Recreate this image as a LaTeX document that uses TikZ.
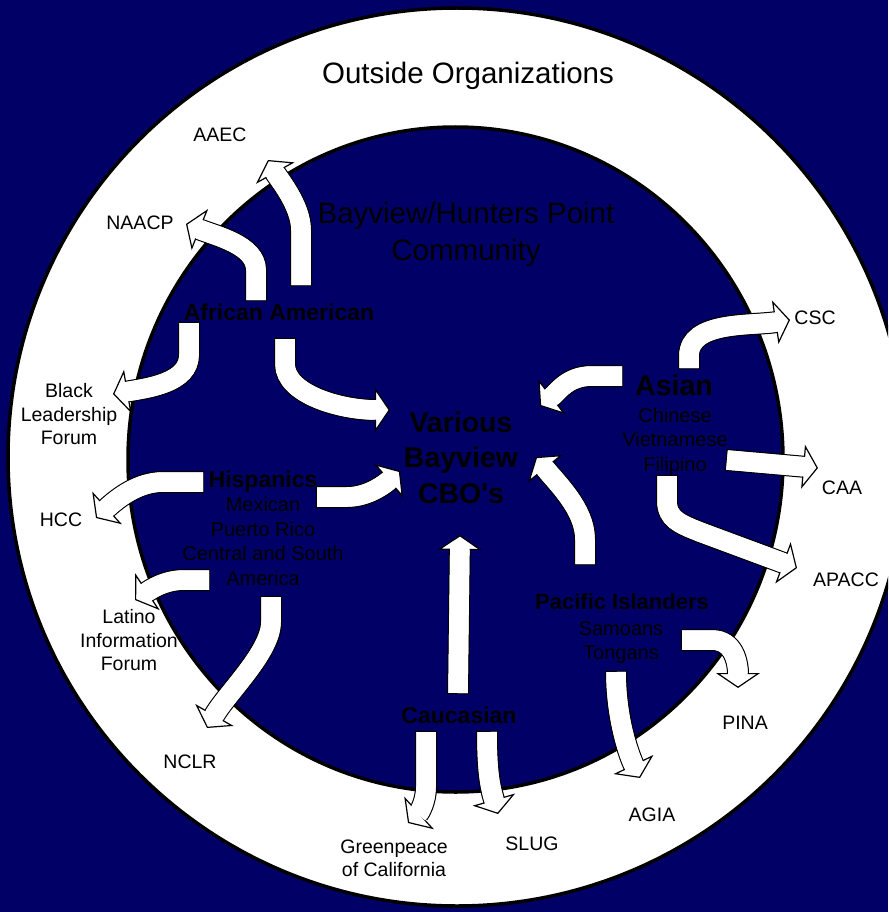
\documentclass[tikz,border=0pt]{standalone}
\usepackage{fontspec}
\setmainfont{Liberation Sans}
\usetikzlibrary{arrows.meta}
\definecolor{bgnavy}{RGB}{0,0,102}

\begin{document}
\begin{tikzpicture}[x=1pt,y=-1pt,
    ring/.style={draw=black,line width=3.5pt},
    flow/.style={draw=white,line width=19.5pt,
      -{Triangle[width=44pt,length=15pt,line width=1.2pt,color=black,fill=white]},
      preaction={draw=black,line width=22pt,arrows=-,shorten >=14pt,shorten <=-1.2pt},
      postaction={draw=white,line width=19.5pt,arrows=-,shorten >=13pt}},
    title/.style={inner sep=0pt,align=center,font=\fontsize{29.5}{37}\selectfont},
    org/.style={inner sep=0pt,align=center,font=\fontsize{19.5}{23.5}\selectfont},
    grp/.style={inner sep=0pt,align=center,font=\bfseries\fontsize{23}{25}\selectfont},
    sub/.style={inner sep=0pt,align=center,font=\fontsize{20}{24.5}\selectfont}]
    \useasboundingbox (0,0) rectangle (888,912);
    \clip (0,0) rectangle (888,912);
    \fill [bgnavy] (0,0) rectangle (888,912);
    \draw [ring,fill=white] (457,457) circle [radius=449];
    \draw [ring,fill=bgnavy] (455.5,459.5) ellipse [x radius=327.5,y radius=332.5];

    % arrow ends
    \coordinate (aaecS) at (301,285);  \coordinate (aaecE) at (268,160);
    \coordinate (naacpS) at (256,300); \coordinate (naacpE) at (186,224);
    \coordinate (blfS) at (189,323);   \coordinate (blfE) at (113,394);
    \coordinate (afcS) at (285,339);   \coordinate (afcE) at (390,410);
    \coordinate (hccS) at (203,482);   \coordinate (hccE) at (96,518);
    \coordinate (hicS) at (317,497);   \coordinate (hicE) at (400,471);
    \coordinate (lifS) at (209,580);   \coordinate (lifE) at (135,600);
    \coordinate (nclrS) at (271,597);  \coordinate (nclrE) at (207,728);
    \coordinate (gpS) at (426,732);    \coordinate (gpE) at (408,823);
    \coordinate (slugS) at (487,732);  \coordinate (slugE) at (498,814);
    \coordinate (cacS) at (458,693);   \coordinate (cacE) at (460,535);
    \coordinate (picS) at (585,564);   \coordinate (picE) at (536,457);
    \coordinate (ascS) at (622,376);   \coordinate (ascE) at (540,406);
    \coordinate (cscS) at (689,368);   \coordinate (cscE) at (790,320);
    \coordinate (caaS) at (727,460);   \coordinate (caaE) at (818,468);
    \coordinate (apaS) at (667,476);   \coordinate (apaE) at (797,568);
    \coordinate (pinaS) at (682,640);  \coordinate (pinaE) at (738,688);
    \coordinate (agiaS) at (616,672);  \coordinate (agiaE) at (640,778);

    \draw [flow] (aaecS) -- ++(0,-55) .. controls +(0,-25) and +(10,18) .. (aaecE);
    \draw [flow] (naacpS) -- ++(0,-30) .. controls +(0,-25) and +(30,12) .. (naacpE);
    \draw [flow] (blfS) -- ++(0,32) .. controls +(0,28) and +(35,-6) .. (blfE);
    \draw [flow] (afcS) -- ++(0,25) .. controls +(0,30) and +(-50,0) .. (afcE);
    \draw [flow] (hccS) -- ++(-40,0) .. controls +(-25,0) and +(22,-20) .. (hccE);
    \draw [flow] (hicS) -- ++(30,0) .. controls +(22,0) and +(-14,12) .. (hicE);
    \draw [flow] (lifS) -- ++(-25,0) .. controls +(-20,0) and +(15,-10) .. (lifE);
    \draw [flow] (nclrS) -- ++(0,25) .. controls +(0,30) and +(20,-35) .. (nclrE);
    \draw [flow] (gpS) -- ++(0,55) .. controls +(0,15) and +(11,-10) .. (gpE);
    \draw [flow] (slugS) .. controls +(0,40) and +(-8,-28) .. (slugE);
    \draw [flow] (cacS) -- (cacE);
    \draw [flow] (picS) -- ++(0,-25) .. controls +(0,-30) and +(20,25) .. (picE);
    \draw [flow] (ascS) -- ++(-30,0) .. controls +(-25,0) and +(18,-14) .. (ascE);
    \draw [flow] (cscS) -- ++(0,-12) .. controls +(0,-35) and +(-40,6) .. (cscE);
    \draw [flow] (caaS) -- (caaE);
    \draw [flow] (apaS) -- ++(0,25) .. controls +(0,18) and +(-20,-8) .. ++(33,31) -- (apaE);
    \draw [flow] (pinaS) -- ++(30,0) .. controls +(22,0) and +(0,-25) .. (pinaE);
    \draw [flow] (agiaS) .. controls +(0,45) and +(-12,-25) .. (agiaE);

    \node [title] (outside) at (468,76) {Outside Organizations};
    \node [title] (bvhp) at (466,234) {Bayview/Hunters Point\\Community};
    \node [inner sep=0pt,align=center,font=\bfseries\fontsize{28.5}{35.5}\selectfont]
        (cbo) at (461,457.5) {Various\\Bayview\\CBO\textquotesingle s};

    \node [grp] (afam) at (279,312) {African American};
    \node [grp] (hisp) at (263,482) {Hispanics};
    \node [sub] (hispsub) at (263,541.5) {Mexican\\Puerto Rico\\Central and South\\America};
    \node [grp,font=\bfseries\fontsize{28.5}{30}\selectfont] (asian) at (674,385) {Asian};
    \node [sub] (asiansub) at (675,441.5) {Chinese\\Vietnamese\\Filipino};
    \node [grp,font=\bfseries\fontsize{22}{25}\selectfont] (pacif) at (622,602) {Pacific Islanders};
    \node [sub] (pacifsub) at (621,642.5) {Samoans\\Tongans};
    \node [grp] (cauc) at (459,715) {Caucasian};

    \node [org] (aaec) at (220,135) {AAEC};
    \node [org] (naacp) at (140,223) {NAACP};
    \node [org] (blf) at (69,414.5) {Black\\Leadership\\Forum};
    \node [org] (hcc) at (61,520) {HCC};
    \node [org] (lif) at (129,640.5) {Latino\\Information\\Forum};
    \node [org] (nclr) at (190,762) {NCLR};
    \node [org] (gp) at (394,858.5) {Greenpeace\\of California};
    \node [org] (slug) at (532,844) {SLUG};
    \node [org] (agia) at (652,815) {AGIA};
    \node [org] (pina) at (745,723) {PINA};
    \node [org] (apacc) at (846,580) {APACC};
    \node [org] (caa) at (842,488) {CAA};
    \node [org] (csc) at (815,318) {CSC};
\end{tikzpicture}
\end{document}
